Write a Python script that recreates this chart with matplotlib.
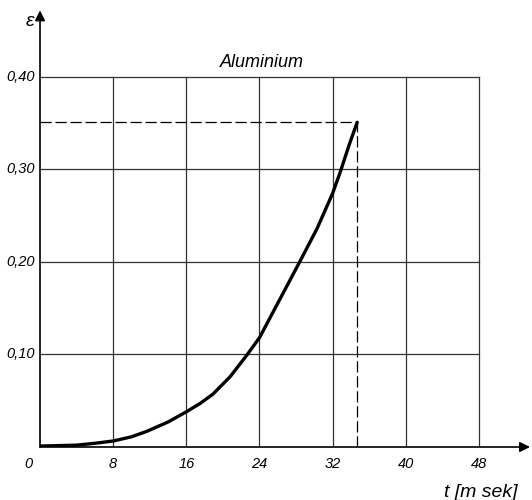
import matplotlib.pyplot as plt

# strain vs time
t = [0, 4, 6, 8, 10, 11.7, 14, 16, 17.5, 18.9, 20.8, 22.6, 24, 26.2, 28.4,
     30.3, 32, 32.8, 33.9, 34.7]
eps = [0.001, 0.002, 0.004, 0.0065, 0.011, 0.017, 0.027, 0.038, 0.047, 0.057,
       0.076, 0.099, 0.118, 0.159, 0.20, 0.236, 0.274, 0.296, 0.329, 0.351]

x_ticks = [8, 16, 24, 32, 40, 48]
y_ticks = [0.10, 0.20, 0.30, 0.40]
y_labels = ["0,10", "0,20", "0,30", "0,40"]

plt.rcParams['font.family'] = ['Liberation Sans', 'DejaVu Sans']

fig = plt.figure(figsize=(5.32, 5.00), dpi=100)
ax = fig.add_axes([40 / 532, 53 / 500, 490 / 532, 439.4 / 500])
ax.set_xlim(0, 53.6)
ax.set_ylim(0, 0.475)
ax.axis('off')

grid_kw = dict(color='#333333', lw=0.9)
for x in x_ticks:
    ax.plot([x, x], [0, 0.40], **grid_kw)
for y in y_ticks:
    ax.plot([0, 48], [y, y], **grid_kw)

# axes with arrow heads
arrow_kw = dict(arrowstyle='-|>', color='black', lw=1.2,
                mutation_scale=15, shrinkA=0, shrinkB=0)
ax.annotate('', xy=(53.6, 0), xytext=(0, 0), arrowprops=arrow_kw,
            annotation_clip=False)
ax.annotate('', xy=(0, 0.472), xytext=(0, 0), arrowprops=arrow_kw,
            annotation_clip=False)

# end point guide lines
t_end, e_end = t[-1], eps[-1]
ax.plot([0, t_end], [e_end, e_end], color='black', lw=0.9, dashes=(9, 3))
ax.plot([t_end, t_end], [0, e_end], color='black', lw=0.9, dashes=(9, 3))

ax.plot(t, eps, color='black', lw=2.4, solid_capstyle='round',
        solid_joinstyle='round')

lab = dict(fontsize=10.5, style='italic', clip_on=False)
for y, s in zip(y_ticks, y_labels):
    ax.text(-0.6, y, s, ha='right', va='center', **lab)
ax.text(-1.3, -0.018, "0", ha='center', va='center', **lab)
for x in x_ticks:
    ax.text(x, -0.018, str(x), ha='center', va='center', **lab)

ax.text(-1.1, 0.46, "ε", ha='center', va='center', fontsize=14, style='italic')
ax.text(24.3, 0.416, "Aluminium", ha='center', va='center', fontsize=13, style='italic')
ax.text(48.2, -0.049, "t [m sek]", ha='center', va='center', fontsize=14,
        style='italic', clip_on=False)

fig.savefig("out.png", dpi=100)
